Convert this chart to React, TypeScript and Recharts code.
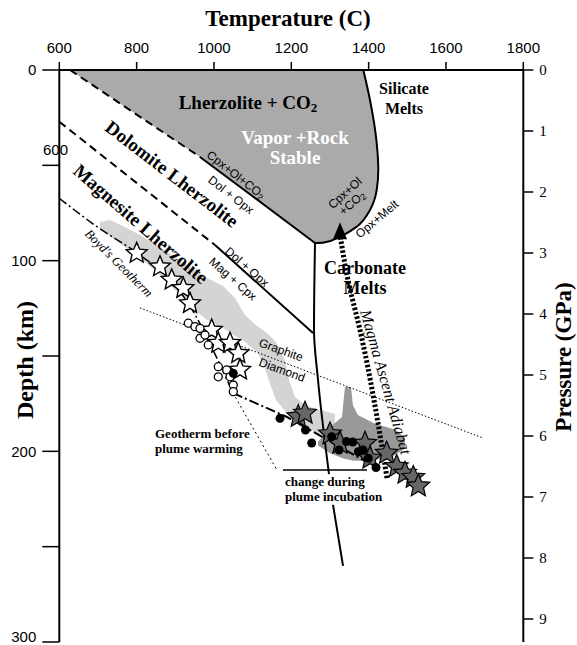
import React from 'react';
import { ComposedChart, XAxis, YAxis, Line, Area, Scatter } from 'recharts';

const SANS = '"Liberation Sans", Arial, sans-serif';
const SERIF = '"Liberation Serif", "Times New Roman", serif';

// axis ticks
const tempTicks = [600, 800, 1000, 1200, 1400, 1600, 1800];
const depthTicks = [0, 50, 100, 150, 200, 250, 300];
const depthInnerTicks = [50, 100, 150, 200, 250];
const pressureTicks = [0, 1, 2, 3, 4, 5, 6, 7, 8, 9];
const pressureInnerTicks = [1, 2, 3, 4, 5, 6, 7, 8, 9];

// Lherzolite + CO2 field, [top, bottom] depth (km) at each temperature (C)
const co2Field = [
  { t: 627.7, band: [0, 0] },
  { t: 963.9, band: [0, 45.6] },
  { t: 1261.3, band: [0, 90.7] },
  { t: 1281.9, band: [0, 90.6] },
  { t: 1325.9, band: [0, 87.4] },
  { t: 1369.1, band: [0, 82.2] },
  { t: 1386.2, band: [0, 79.0] },
  { t: 1403.5, band: [15.7, 73.4] },
  { t: 1420.9, band: [38.4, 62.9] },
  { t: 1425.0, band: [52.4, 52.4] },
];

// xenolith P-T array (light grey band)
const xenolithBand = [
  { t: 705.3, band: [79.7, 82.9] },
  { t: 731.1, band: [78.7, 87.1] },
  { t: 764.7, band: [81.8, 92.3] },
  { t: 808.7, band: [86.5, 98.6] },
  { t: 852.7, band: [91.8, 105.9] },
  { t: 899.2, band: [98.1, 115.4] },
  { t: 938.0, band: [103.3, 123.8] },
  { t: 982.0, band: [109.1, 131.1] },
  { t: 1023.4, band: [113.3, 135.3] },
  { t: 1054.4, band: [119.6, 139.5] },
  { t: 1080.3, band: [128.5, 142.7] },
  { t: 1111.3, band: [134.3, 147.9] },
  { t: 1126.8, band: [136.4, 153.7] },
  { t: 1139.7, band: [138.5, 161.5] },
  { t: 1160.4, band: [142.7, 173.1] },
  { t: 1183.7, band: [152.1, 178.8] },
  { t: 1194.0, band: [162.6, 180.4] },
  { t: 1209.6, band: [171.5, 182.5] },
  { t: 1235.4, band: [175.7, 186.2] },
  { t: 1274.2, band: [178.3, 191.9] },
  { t: 1313.0, band: [180.4, 197.2] },
];

// plume head (dark grey)
const plumeBand = [
  { t: 1269.0, band: [195.0, 197.0] },
  { t: 1300.0, band: [187.5, 201.0] },
  { t: 1331.0, band: [182.0, 203.5] },
  { t: 1338.8, band: [166.3, 204.0] },
  { t: 1354.3, band: [166.3, 204.5] },
  { t: 1359.5, band: [176.0, 205.0] },
  { t: 1372.4, band: [181.0, 205.0] },
  { t: 1416.4, band: [185.5, 204.5] },
  { t: 1468.1, band: [188.5, 202.0] },
  { t: 1494.0, band: [193.0, 198.5] },
];

// Cpx+Ol+CO2 / Dol+Opx reaction
const decarbDashed = [{ t: 627.7, d: 0 }, { t: 963.9, d: 45.6 }];
const decarbSolid = [{ t: 963.9, d: 45.6 }, { t: 1261.3, d: 90.7 }];

// silicate solidus (Cpx+Ol+CO2 / Opx+Melt)
const solidus = [
  { t: 1386.2, d: 0 },
  { t: 1403.5, d: 15.7 },
  { t: 1420.9, d: 38.4 },
  { t: 1425.0, d: 52.4 },
  { t: 1420.9, d: 62.9 },
  { t: 1403.5, d: 73.4 },
  { t: 1369.1, d: 82.2 },
  { t: 1325.9, d: 87.4 },
  { t: 1281.9, d: 90.6 },
  { t: 1261.3, d: 90.7 },
];

// Dol+Opx / Mag+Cpx reaction
const dolMagDashed = [{ t: 600, d: 27.1 }, { t: 1002.7, d: 91.8 }];
const dolMagSolid = [{ t: 1002.7, d: 91.8 }, { t: 1256.1, d: 137.9 }];

// carbonated peridotite solidus
const carbSolidusUpper = [
  { t: 1261.3, d: 90.7 },
  { t: 1258.7, d: 136.4 },
  { t: 1269.1, d: 162.6 },
  { t: 1297.5, d: 211.9 },
];
const carbSolidusLower = [
  { t: 1307.9, d: 228.1 },
  { t: 1333.8, d: 260.1 },
];

// magma ascent adiabat
const adiabat = [
  { t: 1447.5, d: 214.0 },
  { t: 1377.7, d: 136.4 },
  { t: 1346.6, d: 110.1 },
  { t: 1326.0, d: 86.5 },
];
const adiabatTip = [{ t: 1326.0, d: 83.5 }];

// graphite / diamond
const graphiteDiamond = [{ t: 808.7, d: 124.8 }, { t: 1695.7, d: 193.0 }];

// geotherms
const boydGeotherm = [
  { t: 600, d: 67.3 },
  { t: 697.5, d: 82.2 },
  { t: 801.0, d: 96.0 },
  { t: 886.3, d: 110.1 },
  { t: 938.0, d: 123.8 },
  { t: 997.5, d: 146.8 },
  { t: 1049.2, d: 169.4 },
];
const plumeGeotherm = [
  { t: 1049.2, d: 169.4 },
  { t: 1188.9, d: 182.0 },
  { t: 1408.7, d: 207.2 },
];
const oldGeothermTail = [{ t: 1049.2, d: 169.4 }, { t: 1163.0, d: 209.8 }];
const incubationShift = [{ t: 1178.5, d: 209.8 }, { t: 1395.8, d: 209.8 }];

// xenolith P-T estimates
const openStars = [
  { t: 800.2, d: 96.1 },
  { t: 860.4, d: 103.2 },
  { t: 890.7, d: 110.1 },
  { t: 920.7, d: 114.5 },
  { t: 938.0, d: 122.4 },
  { t: 994.1, d: 136.4 },
  { t: 1011.2, d: 143.3 },
  { t: 1041.5, d: 143.3 },
  { t: 1062.9, d: 148.6 },
  { t: 1067.3, d: 157.3 },
];
const openCircles = [
  { t: 933.6, d: 132.8 },
  { t: 950.9, d: 134.6 },
  { t: 963.9, d: 135.5 },
  { t: 963.9, d: 140.7 },
  { t: 976.8, d: 139.0 },
  { t: 985.3, d: 144.2 },
  { t: 1011.2, d: 155.6 },
  { t: 1011.2, d: 160.9 },
  { t: 1032.9, d: 157.3 },
  { t: 1041.5, d: 160.9 },
  { t: 1050.0, d: 165.2 },
  { t: 1050.0, d: 168.7 },
];
const blackDots = [
  { t: 1050.0, d: 159.1 },
  { t: 1170.8, d: 182.7 },
  { t: 1236.7, d: 188.8 },
  { t: 1252.8, d: 195.6 },
  { t: 1304.5, d: 192.3 },
  { t: 1323.4, d: 199.3 },
  { t: 1342.8, d: 194.9 },
  { t: 1358.8, d: 195.1 },
  { t: 1373.3, d: 200.2 },
  { t: 1385.5, d: 199.3 },
  { t: 1399.2, d: 203.6 },
  { t: 1419.1, d: 208.5 },
];
const grayStars = [
  { t: 1218.1, d: 181.8 },
  { t: 1235.4, d: 180.0 },
  { t: 1300.1, d: 190.9 },
  { t: 1325.9, d: 195.8 },
  { t: 1390.6, d: 195.8 },
  { t: 1403.5, d: 203.6 },
  { t: 1446.7, d: 201.0 },
  { t: 1472.6, d: 208.0 },
  { t: 1494.1, d: 211.5 },
  { t: 1515.5, d: 213.7 },
  { t: 1528.5, d: 218.2 },
];

const starPoints = (cx: number, cy: number, R: number, r: number) => {
  const pts: string[] = [];
  for (let i = 0; i < 10; i++) {
    const a = -Math.PI / 2 + (i * Math.PI) / 5;
    const rad = i % 2 === 0 ? R : r;
    pts.push(`${cx + rad * Math.cos(a)},${cy + rad * Math.sin(a)}`);
  }
  return pts.join(' ');
};

const OpenStar = (p: any) => (
  <polygon points={starPoints(p.cx, p.cy, 11, 5)} fill="#fff" stroke="#000" strokeWidth={1.4} />
);
const GrayStar = (p: any) => (
  <polygon points={starPoints(p.cx, p.cy, 12, 5.5)} fill="#666" stroke="#000" strokeWidth={1.2} />
);
const OpenCircle = (p: any) => (
  <circle cx={p.cx} cy={p.cy} r={4} fill="#fff" stroke="#000" strokeWidth={1.3} />
);
const BlackDot = (p: any) => <circle cx={p.cx} cy={p.cy} r={4.5} fill="#000" />;
const ArrowHead = (p: any) => (
  <polygon
    points={`${p.cx},${p.cy - 7} ${p.cx - 7},${p.cy + 10} ${p.cx + 7},${p.cy + 10}`}
    fill="#000"
  />
);

const axisLine = { stroke: '#000', strokeWidth: 2 };
const tickLine = { stroke: '#000', strokeWidth: 1.5 };
const common = { xAxisId: 't', yAxisId: 'd', isAnimationActive: false } as const;

function Note({ x, y, angle = 0, size = 12, family = SANS, weight = 'normal', italic = false, fill = '#000', anchor = 'middle', children }: any) {
  return (
    <text
      x={x}
      y={y}
      transform={angle ? `rotate(${angle} ${x} ${y})` : undefined}
      fontSize={size}
      fontFamily={family}
      fontWeight={weight}
      fontStyle={italic ? 'italic' : 'normal'}
      fill={fill}
      textAnchor={anchor}
      dominantBaseline="central"
    >
      {children}
    </text>
  );
}

export default function App() {
  return (
    <div style={{ position: 'absolute', left: 0, top: 0, width: 577, height: 645, background: '#fff' }}>
      <ComposedChart width={577} height={645} margin={{ top: 30, right: 13.7, bottom: 3, left: 9.3 }}>
        <Area {...common} data={co2Field} dataKey="band" type="linear" fill="#aaaaaa" fillOpacity={1} stroke="none" />
        <Area {...common} data={xenolithBand} dataKey="band" type="linear" fill="#d4d4d4" fillOpacity={1} stroke="none" />
        <Area {...common} data={plumeBand} dataKey="band" type="linear" fill="#999999" fillOpacity={1} stroke="none" />

        <Line {...common} data={decarbDashed} dataKey="d" type="linear" stroke="#000" strokeWidth={2} strokeDasharray="8 5" dot={false} />
        <Line {...common} data={decarbSolid} dataKey="d" type="linear" stroke="#000" strokeWidth={2} dot={false} />
        <Line {...common} data={solidus} dataKey="d" type="monotoneY" stroke="#000" strokeWidth={2} dot={false} />
        <Line {...common} data={dolMagDashed} dataKey="d" type="linear" stroke="#000" strokeWidth={2} strokeDasharray="8 5" dot={false} />
        <Line {...common} data={dolMagSolid} dataKey="d" type="linear" stroke="#000" strokeWidth={2} dot={false} />
        <Line {...common} data={carbSolidusUpper} dataKey="d" type="monotoneY" stroke="#000" strokeWidth={2} dot={false} />
        <Line {...common} data={carbSolidusLower} dataKey="d" type="linear" stroke="#000" strokeWidth={2} dot={false} />
        <Line {...common} data={graphiteDiamond} dataKey="d" type="linear" stroke="#000" strokeWidth={1} strokeDasharray="1.5 2" dot={false} />
        <Line {...common} data={oldGeothermTail} dataKey="d" type="linear" stroke="#000" strokeWidth={1} strokeDasharray="2 3" dot={false} />
        <Line {...common} data={incubationShift} dataKey="d" type="linear" stroke="#000" strokeWidth={1.5} dot={false} />
        <Line {...common} data={boydGeotherm} dataKey="d" type="monotone" stroke="#000" strokeWidth={1.5} strokeDasharray="9 3 2 3" dot={false} />
        <Line {...common} data={plumeGeotherm} dataKey="d" type="linear" stroke="#000" strokeWidth={2} strokeDasharray="10 3 2 3" dot={false} />
        <Line {...common} data={adiabat} dataKey="d" type="monotoneY" stroke="#000" strokeWidth={5} strokeDasharray="2.5 2" dot={false} />

        <Scatter {...common} data={openStars} shape={OpenStar} />
        <Scatter {...common} data={openCircles} shape={OpenCircle} />
        <Scatter {...common} data={grayStars} shape={GrayStar} />
        <Scatter {...common} data={blackDots} shape={BlackDot} />
        <Scatter {...common} data={adiabatTip} shape={ArrowHead} />

        <XAxis
          xAxisId="t"
          orientation="top"
          type="number"
          dataKey="t"
          domain={[600, 1800]}
          allowDataOverflow
          ticks={tempTicks}
          height={40}
          tickSize={8}
          tickMargin={9}
          axisLine={axisLine}
          tickLine={tickLine}
          tick={{ fontSize: 15, fontFamily: SANS, fill: '#000' }}
        />
        <XAxis xAxisId="tin" orientation="top" type="number" domain={[600, 1800]} allowDataOverflow ticks={tempTicks} height={0} mirror tickSize={8} tick={false} axisLine={false} tickLine={tickLine} />
        <XAxis xAxisId="b" orientation="bottom" type="number" domain={[600, 1800]} allowDataOverflow ticks={tempTicks} height={0} mirror tickSize={10} tick={false} axisLine={axisLine} tickLine={tickLine} />

        <YAxis
          yAxisId="d"
          orientation="left"
          type="number"
          dataKey="d"
          reversed
          domain={[0, 300]}
          allowDataOverflow
          ticks={depthTicks}
          width={50}
          tickSize={17}
          tickMargin={6}
          axisLine={axisLine}
          tickLine={tickLine}
          tickFormatter={(v: number) => (v % 100 === 0 ? String(v) : '')}
          tick={{ fontSize: 15, fontFamily: SANS, fill: '#000' }}
        />
        <YAxis yAxisId="pin" orientation="left" type="number" reversed domain={[0, 9.377]} allowDataOverflow ticks={pressureInnerTicks} width={0} mirror tickSize={11} tick={false} axisLine={false} tickLine={tickLine} />
        <YAxis
          yAxisId="p"
          orientation="right"
          type="number"
          reversed
          domain={[0, 9.377]}
          allowDataOverflow
          ticks={pressureTicks}
          width={40}
          tickSize={10}
          tickMargin={6}
          axisLine={axisLine}
          tickLine={tickLine}
          tick={{ fontSize: 15, fontFamily: SERIF, fill: '#000' }}
        />
        <YAxis yAxisId="din" orientation="right" type="number" reversed domain={[0, 300]} allowDataOverflow ticks={depthInnerTicks} width={0} mirror tickSize={17} tick={false} axisLine={false} tickLine={tickLine} />
      </ComposedChart>

      <svg width={577} height={645} style={{ position: 'absolute', left: 0, top: 0, pointerEvents: 'none' }}>
        <Note x={288} y={18} size={23} family={SERIF} weight="bold">Temperature (C)</Note>
        <Note x={25} y={360} angle={-90} size={24} family={SERIF} weight="bold">Depth (km)</Note>
        <Note x={563} y={357} angle={-90} size={23} family={SERIF} weight="bold">Pressure (GPa)</Note>
        <Note x={43} y={149} size={15} anchor="start">600</Note>

        <Note x={248} y={102} size={19} family={SERIF} weight="bold">
          Lherzolite + CO<tspan fontSize={13} dy={5}>2</tspan>
        </Note>
        <Note x={295} y={137} size={19} family={SERIF} weight="bold" fill="#fff">Vapor +Rock</Note>
        <Note x={295} y={157} size={19} family={SERIF} weight="bold" fill="#fff">Stable</Note>
        <Note x={404} y={88} size={16} family={SERIF} weight="bold">Silicate</Note>
        <Note x={404} y={108} size={16} family={SERIF} weight="bold">Melts</Note>
        <Note x={172} y={174} angle={37.5} size={19} family={SERIF} weight="bold">Dolomite Lherzolite</Note>
        <Note x={141} y={224} angle={41} size={19} family={SERIF} weight="bold">Magnesite Lherzolite</Note>
        <Note x={236} y={175} angle={38} size={12}>
          Cpx+Ol+CO<tspan fontSize={9} dy={3}>2</tspan>
        </Note>
        <Note x={231} y={195} angle={38} size={12}>Dol + Opx</Note>
        <Note x={247} y={267} angle={41} size={12}>Dol + Opx</Note>
        <Note x={233} y={279} angle={41} size={12}>Mag + Cpx</Note>
        <Note x={119} y={263} angle={45} size={13} family={SERIF} italic>Boyd's Geotherm</Note>
        <Note x={281} y={350} angle={20} size={12}>Graphite</Note>
        <Note x={282} y={370} angle={20} size={12}>Diamond</Note>
        <Note x={345} y={193} angle={-42} size={12}>Cpx+Ol</Note>
        <Note x={352} y={203} angle={-42} size={12}>
          +CO<tspan fontSize={9} dy={3}>2</tspan>
        </Note>
        <Note x={377} y={219} angle={-40} size={12}>Opx+Melt</Note>
        <Note x={365} y={268} size={18} family={SERIF} weight="bold">Carbonate</Note>
        <Note x={365} y={288} size={18} family={SERIF} weight="bold">Melts</Note>
        <Note x={386} y={382} angle={74} size={16} family={SERIF} italic>Magma Ascent Adiabat</Note>
        <Note x={155} y={433} size={13} family={SERIF} weight="bold" anchor="start">Geotherm before</Note>
        <Note x={155} y={448} size={13} family={SERIF} weight="bold" anchor="start">plume warming</Note>
        <Note x={285} y={481} size={13} family={SERIF} weight="bold" anchor="start">change during</Note>
        <Note x={285} y={496} size={13} family={SERIF} weight="bold" anchor="start">plume incubation</Note>
      </svg>
    </div>
  );
}
